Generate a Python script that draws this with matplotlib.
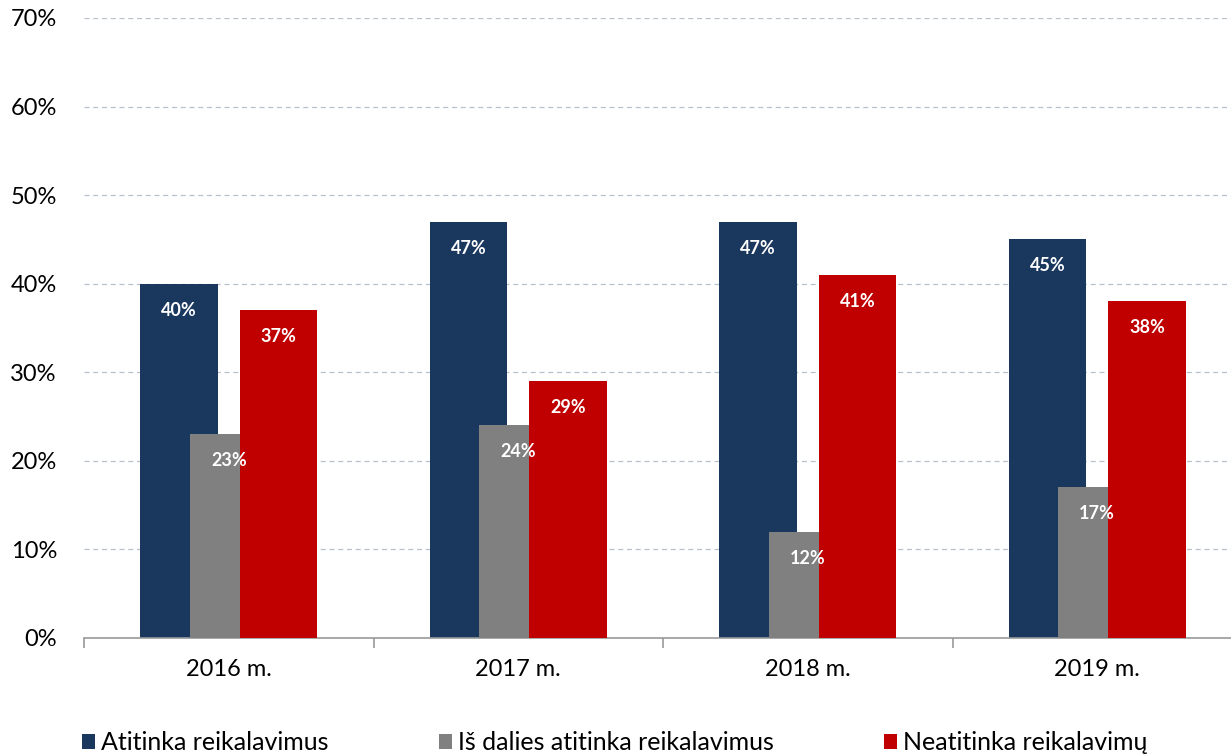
import matplotlib.pyplot as plt
import numpy as np

categories = ['2016 m.', '2017 m.', '2018 m.', '2019 m.']
series_names = ['Atitinka reikalavimus', 'Iš dalies atitinka reikalavimus', 'Neatitinka reikalavimų']
atitinka = [40, 47, 47, 45]
is_dalies = [23, 24, 12, 17]
neatitinka = [37, 29, 41, 38]
y_ticks = [0, 10, 20, 30, 40, 50, 60, 70]

plt.rcParams['font.family'] = ['Lato', 'DejaVu Sans']

fig = plt.figure(figsize=(12.31, 7.54), dpi=100)
ax = fig.add_axes([84 / 1231, 116 / 754, 1158 / 1231, 620 / 754])

x = np.arange(len(categories))
w = 0.269
off = 0.172

# overlapping bars: blue under gray, gray under red
b1 = ax.bar(x - off, atitinka, w, color='#1a375e', zorder=2, label=series_names[0])
b2 = ax.bar(x, is_dalies, w, color='#808080', zorder=3, label=series_names[1])
b3 = ax.bar(x + off, neatitinka, w, color='#c00000', zorder=4, label=series_names[2])

for bars, vals in [(b1, atitinka), (b2, is_dalies), (b3, neatitinka)]:
    for rect, v in zip(bars, vals):
        ax.annotate(f'{v}%', (rect.get_x() + rect.get_width() / 2, v),
                    xytext=(0, -19), textcoords='offset points',
                    ha='center', va='center', color='white',
                    fontsize=13, fontweight='bold', zorder=6)

ax.set_ylim(0, 70)
ax.set_xlim(-0.5, 3.5)
ax.set_yticks(y_ticks)
ax.set_yticklabels([f'{t}%' for t in y_ticks])
ax.yaxis.grid(True, linestyle=(0, (4, 3)), color='#b8c0cc', linewidth=0.9, zorder=0)
ax.set_axisbelow(True)

ax.set_xticks(x)
ax.set_xticklabels(categories)
ax.set_xticks(np.arange(-0.5, 4, 1), minor=True)
ax.tick_params(axis='x', which='major', length=0, pad=15, labelsize=17)
ax.tick_params(axis='x', which='minor', length=7, color='#999999', width=1.2)
ax.tick_params(axis='y', length=0, pad=19.5, labelsize=17)

for s in ['top', 'right', 'left']:
    ax.spines[s].set_visible(False)
ax.spines['bottom'].set_color('#999999')
ax.spines['bottom'].set_linewidth(1.2)

handles = [b1, b2, b3]
fig.legend(handles, series_names, loc='center left', bbox_to_anchor=(82 / 1231, 11 / 754),
           ncol=3, frameon=False, fontsize=18, handlelength=0.52, handleheight=0.52,
           handletextpad=0.25, columnspacing=4.4, borderpad=0, borderaxespad=0)

fig.savefig('out.png', dpi=100)
